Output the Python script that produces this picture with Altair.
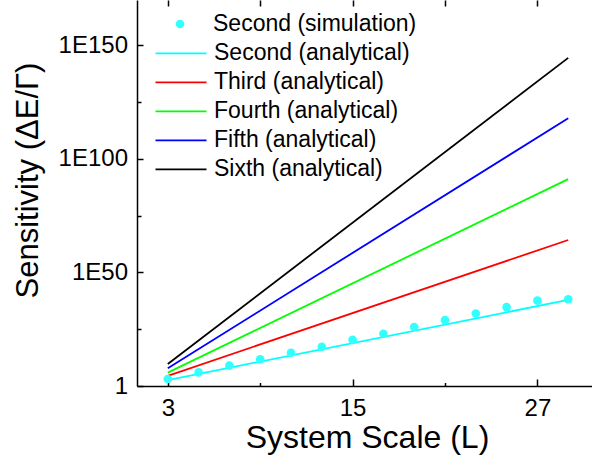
import altair as alt
import pandas as pd

# ---- data ----
L_sim = [3, 5, 7, 9, 11, 13, 15, 17, 19, 21, 23, 25, 27, 29]
sens_sim = [1.26e3, 1.0e6, 1.0e9, 6.31e11, 4.47e14, 1.78e17, 2.0e20,
            1.0e23, 1.0e26, 1.0e29, 8.9e31, 5.6e34, 3.98e37, 1.58e38]

L_line = [3, 29]
second = [3.98e2, 7.94e37]
third = [3.16e4, 2.0e64]
fourth = [7.94e5, 1.26e91]
fifth = [6.31e7, 7.94e117]
sixth = [5.01e9, 3.16e144]

sim_name = "Second (simulation)"
line_names = ["Second (analytical)", "Third (analytical)", "Fourth (analytical)",
              "Fifth (analytical)", "Sixth (analytical)"]
sim_color = "#33FFFF"
line_colors = ["#00FFFF", "#FF0000", "#00FF00", "#0000FF", "#000000"]

x_major = [3, 15, 27]
x_minor = [9, 21]
x_top = [3, 9, 15, 21, 27]
y_major = [1, 1e50, 1e100, 1e150]
y_minor = [1e25, 1e75, 1e125]

# ---- tables ----
rows = []
for name, vals in zip(line_names, [second, third, fourth, fifth, sixth]):
    for L, s in zip(L_line, vals):
        rows.append({"L": L, "S": s, "series": name})
df_lines = pd.DataFrame(rows)
df_sim = pd.DataFrame({"L": L_sim, "S": sens_sim, "series": [sim_name] * len(L_sim)})

W, H = 462, 386
FONT = "Liberation Sans"

def xs():
    return alt.Scale(domain=[1, 31], nice=False, zero=False)

def ys():
    return alt.Scale(type="log", domain=[1, 1e170], nice=False)

def tick_axis(orient, offset, values, size):
    return alt.Axis(orient=orient, offset=offset, values=values, tickSize=size,
                    ticks=True, labels=False, domain=False, title=None, grid=False)

lines = alt.Chart(df_lines).mark_line(strokeWidth=1.8).encode(
    x=alt.X("L:Q", scale=xs(), axis=alt.Axis(
        orient="bottom", values=x_major, ticks=False, tickSize=0, labelPadding=10.5,
        labelFontSize=24, labelFlush=False, title="System Scale (L)", titleFontSize=32,
        titleX=230, titleY=51, titleAlign="center", titleBaseline="middle")),
    y=alt.Y("S:Q", scale=ys(), axis=alt.Axis(
        orient="left", values=y_major, ticks=False, tickSize=0, labelPadding=9.5,
        labelFontSize=24,
        labelExpr="datum.value < 10 ? '1' : '1E' + round(log(datum.value) / LN10)",
        title="Sensitivity (ΔE/Γ)", titleFontSize=31, titleAngle=270,
        titleX=-109, titleY=180, titleAlign="center", titleBaseline="middle")),
    stroke=alt.Stroke("series:N", scale=alt.Scale(domain=line_names, range=line_colors),
                      legend=alt.Legend(title=None, orient="none", legendX=17.5, legendY=38.8,
                                        symbolType="stroke", symbolSize=2601,
                                        symbolStrokeWidth=1.8, clipHeight=29, rowPadding=0,
                                        labelFontSize=23, labelOffset=6.5, labelLimit=400,
                                        padding=0)),
    order=alt.Order("L:Q"),
)

points = alt.Chart(df_sim).mark_point(filled=True, size=75, opacity=1, strokeWidth=0).encode(
    x=alt.X("L:Q", scale=xs(), axis=tick_axis("top", -H, x_major, 7)),
    y=alt.Y("S:Q", scale=ys(), axis=tick_axis("right", -W, y_major, 6)),
    fill=alt.Fill("series:N", scale=alt.Scale(domain=[sim_name], range=[sim_color]),
                  legend=alt.Legend(title=None, orient="none", legendX=31.5, legendY=9.5,
                                    symbolType="circle", symbolSize=75, symbolStrokeWidth=0,
                                    clipHeight=29, rowPadding=0, labelFontSize=23,
                                    labelOffset=21.5, labelLimit=400, padding=0)),
)

minor = alt.Chart(df_sim).mark_point(opacity=0).encode(
    x=alt.X("L:Q", scale=xs(), axis=tick_axis("top", -H, x_minor, 3.5)),
    y=alt.Y("S:Q", scale=ys(), axis=tick_axis("right", -W, y_minor, 4)),
)

frame = alt.Chart(df_sim).mark_point(opacity=0).encode(
    x=alt.X("L:Q", scale=xs(), axis=tick_axis("bottom", -H, x_top, 6)),
    y=alt.Y("S:Q", scale=ys(), axis=tick_axis("left", -W, y_major, 7)),
)

chart = alt.layer(lines, points, minor, frame).resolve_axis(
    x="independent", y="independent"
).properties(
    width=W, height=H,
    autosize=alt.AutoSizeParams(type="none"),
    padding={"left": 137, "top": 0, "right": -7, "bottom": 73},
).configure(
    font=FONT, background="white"
).configure_view(
    stroke=None
).configure_axis(
    labelFont=FONT, titleFont=FONT, labelColor="black", titleColor="black",
    tickColor="black", domainColor="black", tickWidth=1.5, domainWidth=1.5,
    grid=False, titleFontWeight="normal"
).configure_legend(
    labelFont=FONT, labelColor="black"
)

chart.save("out.html", embed_options={"renderer": "svg", "actions": False})
